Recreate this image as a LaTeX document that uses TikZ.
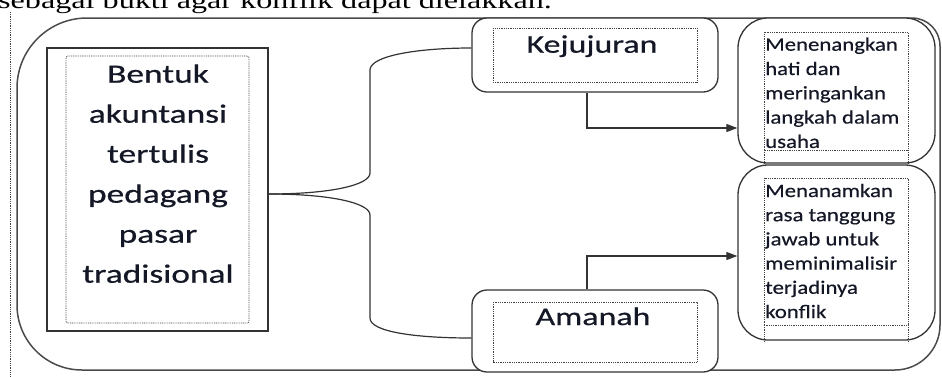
\documentclass[tikz,border=0pt]{standalone}
\usepackage{fontspec}
\setmainfont{Carlito}
\newfontfamily\boxfont[FakeStretch=1.34,FakeBold=0.6]{Carlito}
\newfontfamily\notefont[FakeStretch=1.2,FakeBold=0.4]{Carlito}
\newfontfamily\bodyfont[FakeStretch=1.34]{Liberation Serif}
\usetikzlibrary{arrows.meta,calc}
\definecolor{linegray}{HTML}{333333}
\definecolor{outergray}{HTML}{4A4A4A}
\definecolor{dotgray}{HTML}{444444}
\definecolor{inkdark}{HTML}{141826}

\begin{document}
\begin{tikzpicture}[x=1pt,y=-1pt,
  outerline/.style={draw=outergray, line width=1.5pt},
  plainbox/.style={draw=linegray, line width=1.3pt, fill=white, inner sep=0pt},
  roundbox/.style={plainbox, rounded corners=15pt},
  notebox/.style={plainbox, rounded corners=30pt},
  dotbox/.style={draw=dotgray, line width=0.8pt, dash pattern=on 0.9pt off 0.9pt},
  link/.style={draw=linegray, line width=1.2pt},
  arrowlink/.style={link, -{Triangle[length=11pt,width=8pt]}},
  bigtext/.style={font=\boxfont\fontsize{26.4}{30}\selectfont, text=inkdark, inner sep=0pt},
  midtext/.style={font=\boxfont\fontsize{25.3}{30}\selectfont, text=inkdark, inner sep=0pt},
  smalltext/.style={font=\notefont\fontsize{19}{22}\selectfont, text=inkdark, inner sep=0pt, anchor=base west},
]
\useasboundingbox (0,0) rectangle (942,376);
\clip (0,0) rectangle (942,376);

% running text of the page above the figure
\node[font=\bodyfont\fontsize{24}{24}\selectfont, inner sep=0pt, anchor=base west] (body) at (-2,8) {sebagai bukti agar konflik dapat dielakkan.};

% margin marker of the page
\draw[dotbox] (10,12) -- (10,376);

% outer frame of the figure
\draw[outerline] (17,88) .. controls (17,49.4) and (48.4,18) .. (87,18)
  -- (912,18) .. controls (927.5,18) and (940,30.5) .. (940,46)
  -- (940,325) .. controls (940,349.8) and (919.8,370) .. (895,370)
  -- (82,370) .. controls (46.1,370) and (17,340.9) .. (17,305) -- cycle;

% main boxes
\node[plainbox, minimum width=221pt, minimum height=283pt] (src) at (157.5,189.5) {};
\node[roundbox, minimum width=246pt, minimum height=74pt] (kej) at (595,55) {};
\node[roundbox, minimum width=246pt, minimum height=82pt] (ama) at (595,331) {};
\node[notebox, minimum width=197pt, minimum height=145pt] (n1) at (836.5,90.5) {};
\node[notebox, minimum width=197pt, minimum height=175pt] (n2) at (836.5,252.5) {};

% dotted text frames inside the boxes
\draw[dotbox, rounded corners=2pt] (66,56) rectangle (249,323);
\draw[dotbox] (493,28) rectangle (697,82);
\draw[dotbox] (493,302) rectangle (697,362);
\draw[dotbox] (764,150) -- (764,32) -- (908,32) -- (908,150) -- cycle;
\draw[dotbox] (764,150) -- (764,163) (908,150) -- (908,163);
\draw[dotbox] (764,325) -- (764,178) -- (908,178) -- (908,325) -- cycle;
\draw[dotbox] (764,325) -- (764,343) (908,325) -- (908,343);

% texts
\foreach \w [count=\i from 0] in {Bentuk,akuntansi,tertulis,pedagang,pasar,tradisional}
  \node[bigtext, anchor=base] (srcline\i) at (158,82.7+40*\i) {\w};
\node[midtext, anchor=base] (kejtext) at (592,52.7) {Kejujuran};
\node[midtext, anchor=base] (amatext) at (593,325) {Amanah};
\foreach \w [count=\i from 0] in {Menenangkan,hati dan,meringankan,langkah dalam,usaha}
  \node[smalltext] (noteA\i) at (765,50.7+24.3*\i) {\w};
\foreach \w [count=\i from 0] in {Menanamkan,rasa tanggung,jawab untuk,meminimalisir,terjadinya,konflik}
  \node[smalltext] (noteB\i) at (765,197+24.2*\i) {\w};

% brace splitting into the two values
\draw[link] ($(src.east)+(0,4.5)$) .. controls +(62,0) and +(0,12) .. (370,173)
  -- (370,70) .. controls +(0,-14) and +(-55,0) .. ($(kej.west)+(0,-7)$);
\draw[link] ($(src.east)+(0,4.5)$) .. controls +(62,0) and +(0,-12) .. (370,215)
  -- (370,318) .. controls +(0,14) and +(-55,0) .. ($(ama.west)+(0,7)$);

% arrows to the effects
\draw[arrowlink] ($(kej.south)+(-8,0)$) |- ($(n1.west)+(0,37.5)$);
\draw[arrowlink] ($(ama.north)+(-8,0)$) |- ($(n2.west)+(0,3.5)$);
\end{tikzpicture}
\end{document}
